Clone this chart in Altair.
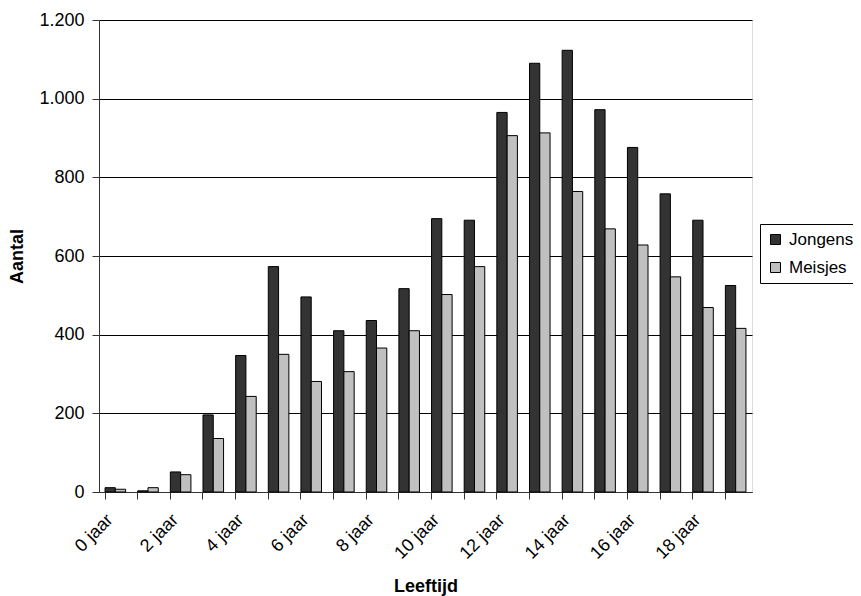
import altair as alt
import pandas as pd

categories = [f"{i} jaar" for i in range(20)]
jongens = [11, 3, 51, 196, 347, 573, 496, 410, 436, 517, 695, 691, 965, 1090, 1123, 972, 876, 758, 691, 525]
meisjes = [7, 11, 44, 136, 243, 350, 281, 306, 366, 410, 502, 573, 906, 913, 764, 669, 628, 547, 469, 416]
series = ["Jongens", "Meisjes"]
colors = ["#333333", "#c0c0c0"]

rows = []
for c, j, m in zip(categories, jongens, meisjes):
    rows.append({"Leeftijd": c, "Geslacht": "Jongens", "Aantal": j})
    rows.append({"Leeftijd": c, "Geslacht": "Meisjes", "Aantal": m})
df = pd.DataFrame(rows)

FONT = "Liberation Sans"
LBL = 18
TTL = 18

chart = alt.Chart(df).mark_bar(stroke="black", strokeWidth=1).encode(
    x=alt.X("Leeftijd:N", sort=categories,
            scale=alt.Scale(paddingInner=0.37, paddingOuter=0.185),
            axis=alt.Axis(title="Leeftijd", labelAngle=-45, bandPosition=0,
                          labelOffset=-5,
                          labelExpr="parseInt(datum.value) % 2 == 0 ? datum.value : ''",
                          labelAlign="right", labelBaseline="middle",
                          labelFontSize=LBL, labelFont=FONT, labelColor="black",
                          labelPadding=18,
                          titleFontSize=TTL, titleFont=FONT, titleFontWeight="bold",
                          titleColor="black", titleY=99, titleBaseline="alphabetic",
                          tickColor="#333333", tickSize=7, domainColor="#333333",
                          grid=False)),
    xOffset=alt.XOffset("Geslacht:N", sort=series, scale=alt.Scale(paddingInner=0, paddingOuter=0)),
    y=alt.Y("Aantal:Q", scale=alt.Scale(domain=[0, 1200], nice=False),
            axis=alt.Axis(title="Aantal", values=list(range(0, 1201, 200)),
                          labelExpr="replace(format(datum.value, ','), ',', '.')",
                          labelFontSize=LBL, labelFont=FONT, labelColor="black",
                          labelPadding=8,
                          titleFontSize=TTL, titleFont=FONT, titleFontWeight="bold",
                          titleColor="black", titlePadding=12,
                          tickColor="#333333", tickSize=7, domainColor="#333333",
                          grid=True, gridColor="black", gridWidth=1)),
    color=alt.Color("Geslacht:N", sort=series,
                    scale=alt.Scale(domain=series, range=colors),
                    legend=alt.Legend(title=None, orient="none", legendX=661, legendY=204,
                                      symbolType="square", symbolSize=100,
                                      symbolStrokeColor="black", symbolStrokeWidth=1,
                                      labelFontSize=17, labelFont=FONT, labelColor="black",
                                      labelOffset=5, rowPadding=10, padding=7,
                                      strokeColor="black", fillColor="white")),
).properties(
    width=653, height=472,
    autosize=alt.AutoSizeParams(type="none"),
    padding={"left": 91, "top": 12, "right": 101, "bottom": 104},
).configure_view(stroke="#808080", strokeWidth=1).configure(background="white")

chart.save("out.html", embed_options={"renderer": "svg", "actions": False})
